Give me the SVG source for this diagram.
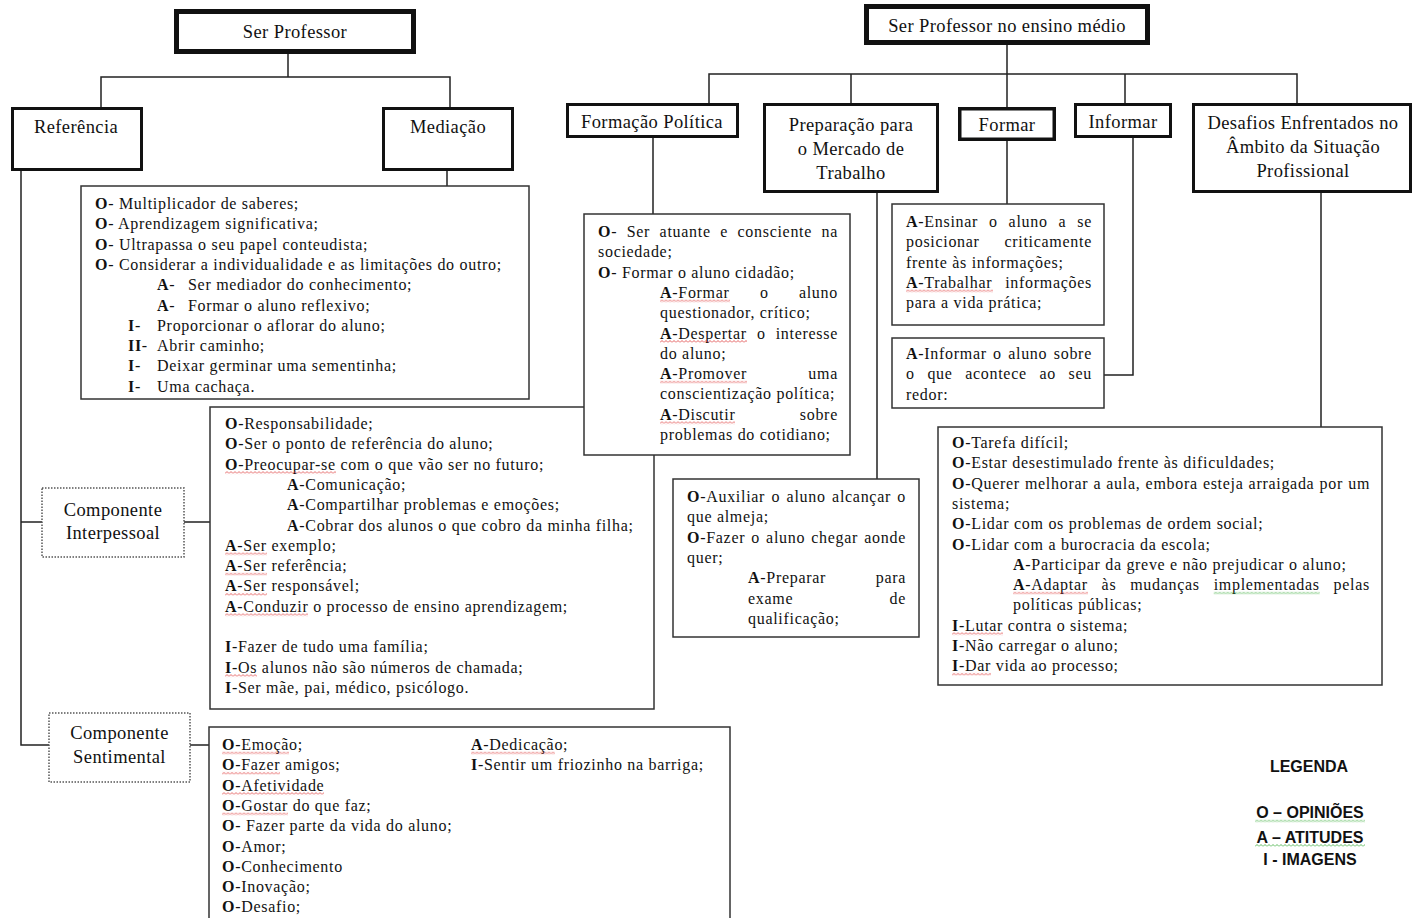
<svg xmlns="http://www.w3.org/2000/svg" width="1413" height="918" viewBox="0 0 1413 918">
<defs>
<style>
.t{font-family:"Liberation Serif","Times New Roman",serif;font-size:16px;letter-spacing:0.7px;fill:#111}
.h{font-family:"Liberation Serif","Times New Roman",serif;font-size:18.5px;letter-spacing:0.4px;fill:#111;text-anchor:middle}
.b{font-weight:bold}
.box{fill:#fff;stroke:#333;stroke-width:1.5}
.hb{fill:#fff;stroke:#111;stroke-width:3}
.tb{fill:#fff;stroke:#111;stroke-width:5}
.db{fill:#fff;stroke:#555;stroke-width:1.5;stroke-dasharray:1.5 1.5}
.c{fill:none;stroke:#222;stroke-width:1.5}
.leg{font-family:"Liberation Sans",Arial,sans-serif;font-weight:bold;font-size:16px;fill:#111;text-anchor:middle}
.sq{fill:url(#wr)}
.sg{fill:url(#wg)}
</style>
<pattern id="wr" width="4" height="3" patternUnits="userSpaceOnUse"><path d="M0 2.5L2 0.5L4 2.5" fill="none" stroke="#d33" stroke-width="0.8"/></pattern>
<pattern id="wg" width="4" height="3" patternUnits="userSpaceOnUse"><path d="M0 2.5L2 0.5L4 2.5" fill="none" stroke="#3a3" stroke-width="0.8"/></pattern>
</defs>
<rect width="1413" height="918" fill="#fff"/>

<g id="connectors" class="c">
<path d="M288 54V77M101 107V77H450V107M447 171V186M21 171V745H49M21 522H42M184 522H210M190 745H209"/>
<path d="M1007 45V107M709 103V74H1297V103M851 74V103M1125 74V103M653 138V214M877 193V479M1007 141V204M1133 138V375H1104M1321 193V427"/>
</g>

<g id="ser-professor"><rect class="tb" x="176.5" y="11.5" width="237" height="40"/><text class="h" x="295" y="38">Ser Professor</text></g>
<g id="referencia"><rect class="hb" x="12.5" y="108.5" width="129" height="61"/><text class="h" x="76" y="133">Referência</text></g>
<g id="mediacao"><rect class="hb" x="383.5" y="108.5" width="129" height="61"/><text class="h" x="448" y="133">Mediação</text></g>

<g id="mediacao-itens">
<rect class="box" x="81" y="186" width="448" height="213"/>
<text class="t" x="95" y="209"><tspan class="b">O</tspan>- Multiplicador de saberes;</text>
<text class="t" x="95" y="229.3"><tspan class="b">O</tspan>- Aprendizagem significativa;</text>
<text class="t" x="95" y="249.6"><tspan class="b">O</tspan>- Ultrapassa o seu papel conteudista;</text>
<text class="t" x="95" y="269.9"><tspan class="b">O</tspan>- Considerar a individualidade e as limitações do outro;</text>
<text class="t" y="290.2"><tspan class="b" x="157">A</tspan>- <tspan x="188">Ser mediador do conhecimento;</tspan></text>
<text class="t" y="310.5"><tspan class="b" x="157">A</tspan>- <tspan x="188">Formar o aluno reflexivo;</tspan></text>
<text class="t" y="330.8"><tspan class="b" x="128">I</tspan>- <tspan x="157">Proporcionar o aflorar do aluno;</tspan></text>
<text class="t" y="351.1"><tspan class="b" x="128">II</tspan>- <tspan x="157">Abrir caminho;</tspan></text>
<text class="t" y="371.4"><tspan class="b" x="128">I</tspan>- <tspan x="157">Deixar germinar uma sementinha;</tspan></text>
<text class="t" y="391.7"><tspan class="b" x="128">I</tspan>- <tspan x="157">Uma cachaça.</tspan></text>
</g>

<g id="componente-interpessoal"><rect class="db" x="42" y="488" width="142" height="69"/><text class="h" x="113" y="516">Componente</text><text class="h" x="113" y="539">Interpessoal</text></g>
<g id="componente-sentimental"><rect class="db" x="49" y="713" width="141" height="69"/><text class="h" x="119.5" y="739">Componente</text><text class="h" x="119.5" y="763">Sentimental</text></g>

<g id="interpessoal-itens">
<rect class="box" x="210" y="407" width="444" height="302"/>
<text class="t" x="225" y="429"><tspan class="b">O</tspan>-Responsabilidade;</text>
<text class="t" x="225" y="449.3"><tspan class="b">O</tspan>-Ser o ponto de referência do aluno;</text>
<text class="t" x="225" y="469.6"><tspan class="b">O</tspan>-Preocupar-se com o que vão ser no futuro;</text>
<text class="t" x="287" y="489.9"><tspan class="b">A</tspan>-Comunicação;</text>
<text class="t" x="287" y="510.2"><tspan class="b">A</tspan>-Compartilhar problemas e emoções;</text>
<text class="t" x="287" y="530.5"><tspan class="b">A</tspan>-Cobrar dos alunos o que cobro da minha filha;</text>
<text class="t" x="225" y="550.8"><tspan class="b">A</tspan>-Ser exemplo;</text>
<text class="t" x="225" y="571.1"><tspan class="b">A</tspan>-Ser referência;</text>
<text class="t" x="225" y="591.4"><tspan class="b">A</tspan>-Ser responsável;</text>
<text class="t" x="225" y="611.7"><tspan class="b">A</tspan>-Conduzir o processo de ensino aprendizagem;</text>
<text class="t" x="225" y="652.3"><tspan class="b">I</tspan>-Fazer de tudo uma família;</text>
<text class="t" x="225" y="672.6"><tspan class="b">I</tspan>-Os alunos não são números de chamada;</text>
<text class="t" x="225" y="692.9"><tspan class="b">I</tspan>-Ser mãe, pai, médico, psicólogo.</text>
<rect class="sq" transform="translate(225,471.1)" width="111" height="3"/>
<rect class="sq" transform="translate(225,552.3)" width="42" height="3"/>
<rect class="sq" transform="translate(225,572.6)" width="42" height="3"/>
<rect class="sq" transform="translate(225,592.9)" width="42" height="3"/>
<rect class="sq" transform="translate(225,613.2)" width="83" height="3"/>
<rect class="sq" transform="translate(225,674.1)" width="32" height="3"/>
</g>

<g id="sentimental-itens">
<rect class="box" x="209" y="727" width="521" height="210"/>
<text class="t" x="222" y="750"><tspan class="b">O</tspan>-Emoção;</text>
<text class="t" x="222" y="770.3"><tspan class="b">O</tspan>-Fazer amigos;</text>
<text class="t" x="222" y="790.6"><tspan class="b">O</tspan>-Afetividade</text>
<text class="t" x="222" y="810.9"><tspan class="b">O</tspan>-Gostar do que faz;</text>
<text class="t" x="222" y="831.2"><tspan class="b">O</tspan>- Fazer parte da vida do aluno;</text>
<text class="t" x="222" y="851.5"><tspan class="b">O</tspan>-Amor;</text>
<text class="t" x="222" y="871.8"><tspan class="b">O</tspan>-Conhecimento</text>
<text class="t" x="222" y="892.1"><tspan class="b">O</tspan>-Inovação;</text>
<text class="t" x="222" y="912.4"><tspan class="b">O</tspan>-Desafio;</text>
<text class="t" x="471" y="750"><tspan class="b">A</tspan>-Dedicação;</text>
<text class="t" x="471" y="770.3"><tspan class="b">I</tspan>-Sentir um friozinho na barriga;</text>
<rect class="sq" transform="translate(222,751.5)" width="67" height="3"/>
<rect class="sq" transform="translate(222,771.8)" width="58" height="3"/>
<rect class="sq" transform="translate(222,792.1)" width="102" height="3"/>
<rect class="sq" transform="translate(222,812.4)" width="66" height="3"/>
<rect class="sq" transform="translate(471,751.5)" width="84" height="3"/>
</g>

<g id="ser-professor-ensino-medio"><rect class="tb" x="866.5" y="6.5" width="281" height="36"/><text class="h" x="1007" y="32">Ser Professor no ensino médio</text></g>
<g id="formacao-politica"><rect class="hb" x="567.5" y="104.5" width="170" height="32"/><text class="h" x="652" y="128">Formação Política</text></g>
<g id="preparacao"><rect class="hb" x="764.5" y="104.5" width="173" height="87"/><text class="h" x="851" y="131">Preparação para</text><text class="h" x="851" y="155">o Mercado de</text><text class="h" x="851" y="179">Trabalho</text></g>
<g id="formar"><rect class="hb" style="stroke-width:3.5" x="959.75" y="108.75" width="94.5" height="30.5"/><text class="h" x="1007" y="131">Formar</text></g>
<g id="informar"><rect class="hb" x="1075.5" y="104.5" width="95" height="32"/><text class="h" x="1123" y="128">Informar</text></g>
<g id="desafios"><rect class="hb" x="1193.5" y="104.5" width="217" height="87"/><text class="h" x="1303" y="129">Desafios Enfrentados no</text><text class="h" x="1303" y="153">Âmbito da Situação</text><text class="h" x="1303" y="177">Profissional</text></g>

<g id="formacao-itens">
<rect class="box" x="584" y="214" width="266" height="241"/>
<text class="t" y="237"><tspan x="598"><tspan class="b">O</tspan>- </tspan><tspan x="626.7">Ser </tspan><tspan x="659.6">atuante </tspan><tspan x="720.2">e </tspan><tspan x="737.5">consciente </tspan><tspan x="821.5">na</tspan></text>
<text class="t" x="598" y="257.3">sociedade;</text>
<text class="t" x="598" y="277.6"><tspan class="b">O</tspan>- Formar o aluno cidadão;</text>
<text class="t" y="297.9"><tspan x="660"><tspan class="b">A</tspan>-Formar </tspan><tspan x="759.9">o </tspan><tspan x="798.9">aluno</tspan></text>
<text class="t" x="660" y="318.2">questionador, crítico;</text>
<text class="t" y="338.5"><tspan x="660"><tspan class="b">A</tspan>-Despertar </tspan><tspan x="756.9">o </tspan><tspan x="775.7">interesse</tspan></text>
<text class="t" x="660" y="358.8">do aluno;</text>
<text class="t" y="379.1"><tspan x="660"><tspan class="b">A</tspan>-Promover </tspan><tspan x="808.3">uma</tspan></text>
<text class="t" x="660" y="399.4">conscientização política;</text>
<text class="t" y="419.7"><tspan x="660"><tspan class="b">A</tspan>-Discutir </tspan><tspan x="799.8">sobre</tspan></text>
<text class="t" x="660" y="440">problemas do cotidiano;</text>
<rect class="sq" transform="translate(660,299.4)" width="70" height="3"/>
<rect class="sq" transform="translate(660,340)" width="87" height="3"/>
<rect class="sq" transform="translate(660,380.6)" width="87" height="3"/>
<rect class="sq" transform="translate(660,421.2)" width="75" height="3"/>
</g>

<g id="formar-itens">
<rect class="box" x="892" y="204" width="212" height="121"/>
<text class="t" y="227"><tspan x="906"><tspan class="b">A</tspan>-Ensinar </tspan><tspan x="989">o </tspan><tspan x="1008.6">aluno </tspan><tspan x="1058.6">a </tspan><tspan x="1077.3">se</tspan></text>
<text class="t" y="247.3"><tspan x="906">posicionar </tspan><tspan x="1004.5">criticamente</tspan></text>
<text class="t" x="906" y="267.6">frente às informações;</text>
<text class="t" y="287.9"><tspan x="906"><tspan class="b">A</tspan>-Trabalhar </tspan><tspan x="1005.2">informações</tspan></text>
<text class="t" x="906" y="308.2">para a vida prática;</text>
<rect class="sq" transform="translate(906,289.4)" width="87" height="3"/>
</g>

<g id="informar-itens">
<rect class="box" x="892" y="338" width="212" height="70"/>
<text class="t" y="359"><tspan x="906"><tspan class="b">A</tspan>-Informar </tspan><tspan x="993.1">o </tspan><tspan x="1008.2">aluno </tspan><tspan x="1053.8">sobre</tspan></text>
<text class="t" y="379.3"><tspan x="906">o </tspan><tspan x="927.4">que </tspan><tspan x="965.2">acontece </tspan><tspan x="1039.5">ao </tspan><tspan x="1068.6">seu</tspan></text>
<text class="t" x="906" y="399.6">redor:</text>
</g>

<g id="preparacao-itens">
<rect class="box" x="673" y="479" width="246" height="158"/>
<text class="t" y="502"><tspan x="687"><tspan class="b">O</tspan>-Auxiliar </tspan><tspan x="771.5">o </tspan><tspan x="786.6">aluno </tspan><tspan x="832.1">alcançar </tspan><tspan x="897.3">o</tspan></text>
<text class="t" x="687" y="522.3">que almeja;</text>
<text class="t" y="542.6"><tspan x="687"><tspan class="b">O</tspan>-Fazer </tspan><tspan x="751.3">o </tspan><tspan x="766.1">aluno </tspan><tspan x="811.3">chegar </tspan><tspan x="864.3">aonde</tspan></text>
<text class="t" x="687" y="562.9">quer;</text>
<text class="t" y="583.2"><tspan x="748"><tspan class="b">A</tspan>-Preparar </tspan><tspan x="875.7">para</tspan></text>
<text class="t" y="603.5"><tspan x="748">exame </tspan><tspan x="889.5">de</tspan></text>
<text class="t" x="748" y="623.8">qualificação;</text>
</g>

<g id="desafios-itens">
<rect class="box" x="938" y="427" width="444" height="258"/>
<text class="t" x="952" y="448"><tspan class="b">O</tspan>-Tarefa difícil;</text>
<text class="t" x="952" y="468.3"><tspan class="b">O</tspan>-Estar desestimulado frente às dificuldades;</text>
<text class="t" y="488.6"><tspan x="952"><tspan class="b">O</tspan>-Querer </tspan><tspan x="1024.9">melhorar </tspan><tspan x="1093.4">a </tspan><tspan x="1106.3">aula, </tspan><tspan x="1145.6">embora </tspan><tspan x="1202.9">esteja </tspan><tspan x="1248.6">arraigada </tspan><tspan x="1319.5">por </tspan><tspan x="1348.2">um</tspan></text>
<text class="t" x="952" y="508.9">sistema;</text>
<text class="t" x="952" y="529.2"><tspan class="b">O</tspan>-Lidar com os problemas de ordem social;</text>
<text class="t" x="952" y="549.5"><tspan class="b">O</tspan>-Lidar com a burocracia da escola;</text>
<text class="t" x="1013" y="569.8"><tspan class="b">A</tspan>-Participar da greve e não prejudicar o aluno;</text>
<text class="t" y="590.1"><tspan x="1013"><tspan class="b">A</tspan>-Adaptar </tspan><tspan x="1101.6">às </tspan><tspan x="1130.2">mudanças </tspan><tspan x="1213.7">implementadas </tspan><tspan x="1333.6">pelas</tspan></text>
<text class="t" x="1013" y="610.4">políticas públicas;</text>
<text class="t" x="952" y="630.7"><tspan class="b">I</tspan>-Lutar contra o sistema;</text>
<text class="t" x="952" y="651"><tspan class="b">I</tspan>-Não carregar o aluno;</text>
<text class="t" x="952" y="671.3"><tspan class="b">I</tspan>-Dar vida ao processo;</text>
<rect class="sq" transform="translate(1013,591.6)" width="75" height="3"/>
<rect class="sg" transform="translate(1213.7,591.6)" width="106" height="3"/>
<rect class="sq" transform="translate(952,632.2)" width="51" height="3"/>
<rect class="sq" transform="translate(952,672.8)" width="39" height="3"/>
</g>

<g id="legenda">
<text class="leg" x="1309" y="771.5">LEGENDA</text>
<text class="leg" x="1310" y="818">O – OPINIÕES</text>
<text class="leg" x="1310" y="842.5">A – ATITUDES</text>
<text class="leg" x="1310" y="865">I - IMAGENS</text>
<rect class="sg" transform="translate(1255,819.5)" width="110" height="3"/>
<rect class="sg" transform="translate(1255,844)" width="110" height="3"/>
</g>
</svg>
